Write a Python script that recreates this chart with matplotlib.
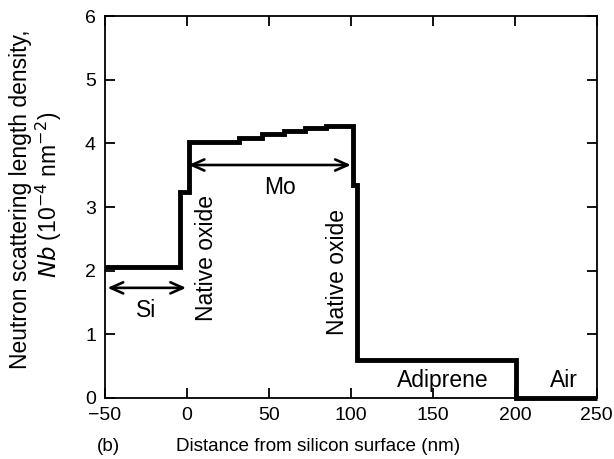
import matplotlib
matplotlib.use("Agg")
import matplotlib.pyplot as plt

# Layer boundaries (nm) and Nb levels (1e-4 nm^-2)
edges = [-50, -4, 1, 32, 46, 59, 72, 85, 101, 103.5, 201, 250]
nb_values = [2.05, 3.23, 4.02, 4.08, 4.14, 4.19, 4.24, 4.28, 3.34, 0.59, 0.0]

xticks = [-50, 0, 50, 100, 150, 200, 250]
yticks = [0, 1, 2, 3, 4, 5, 6]

plt.rcParams['font.family'] = ['Liberation Sans', 'DejaVu Sans']
fs_tick = 14
fs_ann = 16.5
fs_ylab = 16.5
fs_xlab = 13.6

fig = plt.figure(figsize=(6.14, 4.59), dpi=100)
ax = fig.add_axes([0.171, 0.133, 0.801, 0.832])

ax.stairs(nb_values, edges, color='black', linewidth=3.5, baseline=None, clip_on=False)

ax.set_xlim(-50, 250)
ax.set_ylim(0, 6)
ax.set_xticks(xticks)
ax.set_yticks(yticks)
ax.tick_params(direction='in', length=7, width=1.3, top=True, right=True,
               labelsize=fs_tick, pad=6.5)
for s in ax.spines.values():
    s.set_linewidth(1.3)

arrow_kw = dict(arrowstyle='<->,head_length=0.9,head_width=0.4', color='black', lw=1.9,
                shrinkA=0, shrinkB=0)
ax.annotate('', xy=(-48.5, 1.73), xytext=(-0.5, 1.73), arrowprops=arrow_kw)
ax.annotate('', xy=(1.0, 3.66), xytext=(100, 3.66), arrowprops=arrow_kw)

ax.text(-25, 1.37, 'Si', fontsize=fs_ann, ha='center', va='center')
ax.text(57, 3.3, 'Mo', fontsize=fs_ann, ha='center', va='center')
ax.text(12, 2.2, 'Native oxide', fontsize=fs_ann, ha='center', va='center', rotation=90)
ax.text(92, 1.98, 'Native oxide', fontsize=fs_ann, ha='center', va='center', rotation=90)
ax.text(156, 0.28, 'Adiprene', fontsize=fs_ann, ha='center', va='center')
ax.text(230, 0.28, 'Air', fontsize=fs_ann, ha='center', va='center')

fig.text(0.034, 0.566, 'Neutron scattering length density,', fontsize=fs_ylab,
         rotation=90, ha='center', va='center')
fig.text(0.080, 0.575, r'$\it{Nb}$ (10$^{-4}$ nm$^{-2}$)', fontsize=fs_ylab,
         rotation=90, ha='center', va='center')

fig.text(0.518, 0.028, 'Distance from silicon surface (nm)', fontsize=fs_xlab,
         ha='center', va='center')
fig.text(0.176, 0.028, '(b)', fontsize=fs_xlab, ha='center', va='center')

fig.savefig('out.png', dpi=100)
